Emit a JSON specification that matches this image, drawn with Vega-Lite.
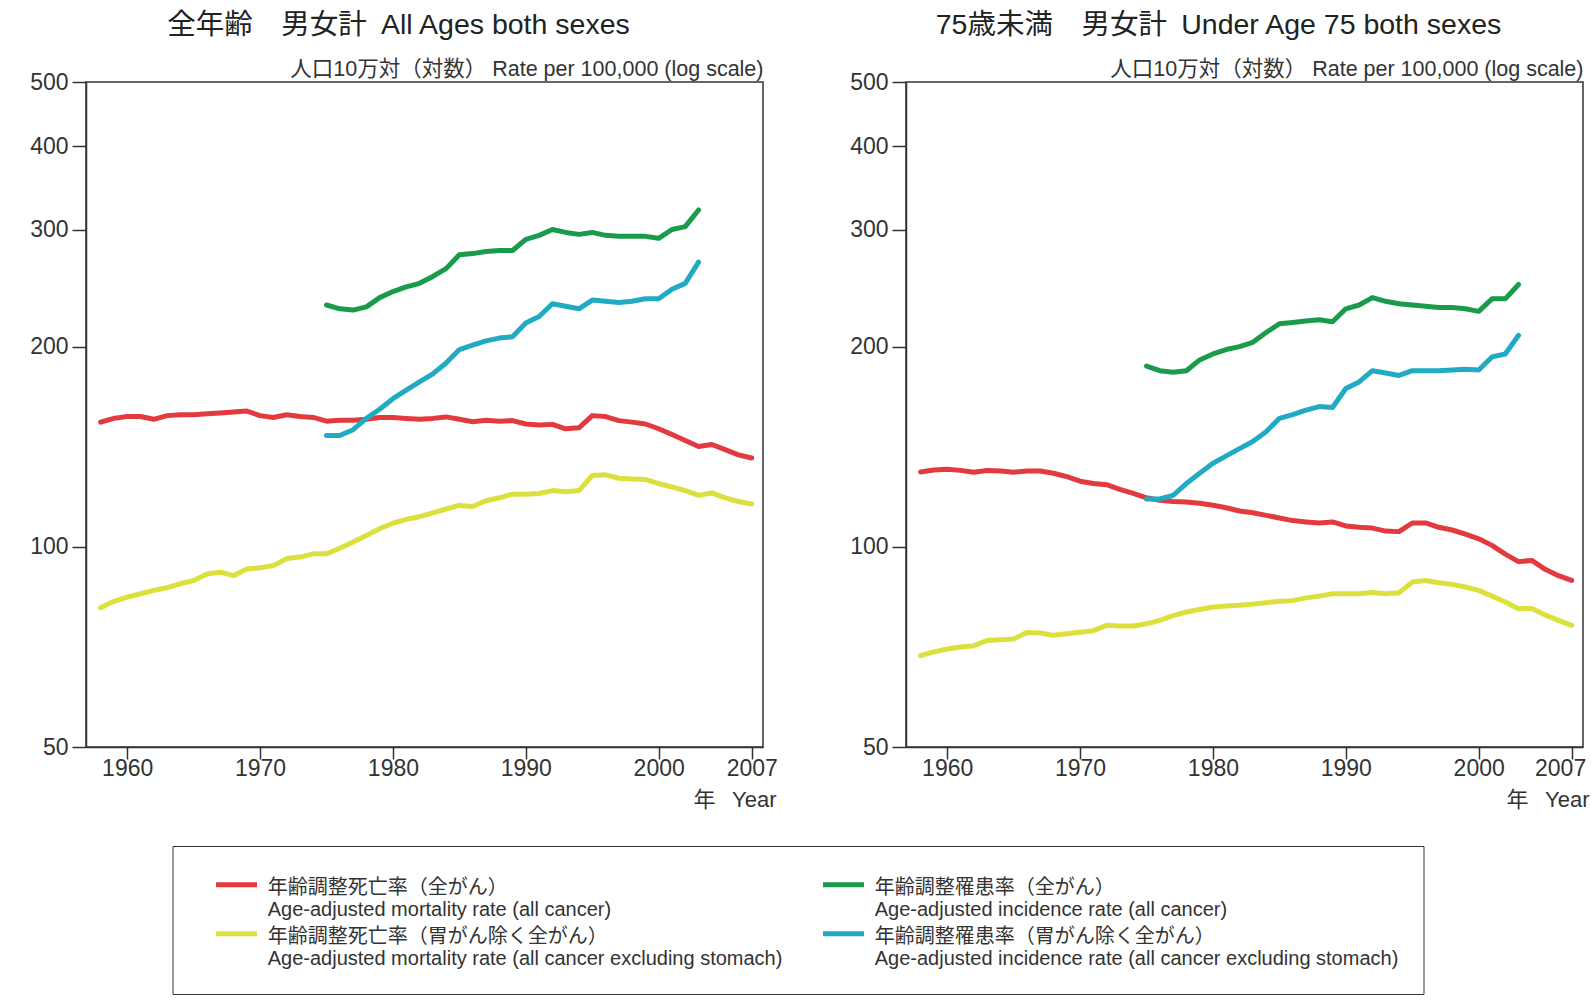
{
  "$schema": "https://vega.github.io/schema/vega-lite/v6.json",
  "padding": {"left": 28, "top": 9, "right": 0, "bottom": 0},
  "background": "white",
  "config": {
    "font": "Liberation Sans, Noto Sans CJK JP",
    "view": {"stroke": "#333", "strokeWidth": 1.5},
    "axis": {"grid": false, "domainColor": "#333", "domainWidth": 1.5, "tickColor": "#333", "tickWidth": 1.5, "labelColor": "#333", "labelFontSize": 23, "titleFontWeight": "normal", "titleColor": "#333"},
    "title": {"fontSize": 28.5, "fontWeight": "normal", "color": "#222", "anchor": "middle", "dx": -26, "offset": 19},
    "legend": {"labelColor": "#333"}
  },
  "datasets": {
    "d": [
      {"p":"all","s":"mortality","year":1958,"v":154},{"p":"all","s":"mortality","year":1959,"v":156},{"p":"all","s":"mortality","year":1960,"v":157},{"p":"all","s":"mortality","year":1961,"v":157},{"p":"all","s":"mortality","year":1962,"v":155.5},{"p":"all","s":"mortality","year":1963,"v":157.5},{"p":"all","s":"mortality","year":1964,"v":158},{"p":"all","s":"mortality","year":1965,"v":158},{"p":"all","s":"mortality","year":1966,"v":158.5},{"p":"all","s":"mortality","year":1967,"v":159},{"p":"all","s":"mortality","year":1968,"v":159.5},{"p":"all","s":"mortality","year":1969,"v":160},{"p":"all","s":"mortality","year":1970,"v":157.5},{"p":"all","s":"mortality","year":1971,"v":156.5},{"p":"all","s":"mortality","year":1972,"v":158},{"p":"all","s":"mortality","year":1973,"v":157},{"p":"all","s":"mortality","year":1974,"v":156.5},{"p":"all","s":"mortality","year":1975,"v":154.5},{"p":"all","s":"mortality","year":1976,"v":155},{"p":"all","s":"mortality","year":1977,"v":155},{"p":"all","s":"mortality","year":1978,"v":155.5},{"p":"all","s":"mortality","year":1979,"v":156.5},{"p":"all","s":"mortality","year":1980,"v":156.5},{"p":"all","s":"mortality","year":1981,"v":156},{"p":"all","s":"mortality","year":1982,"v":155.5},{"p":"all","s":"mortality","year":1983,"v":156},{"p":"all","s":"mortality","year":1984,"v":156.8},{"p":"all","s":"mortality","year":1985,"v":155.5},{"p":"all","s":"mortality","year":1986,"v":154.2},{"p":"all","s":"mortality","year":1987,"v":155},{"p":"all","s":"mortality","year":1988,"v":154.5},{"p":"all","s":"mortality","year":1989,"v":154.8},{"p":"all","s":"mortality","year":1990,"v":153},{"p":"all","s":"mortality","year":1991,"v":152.5},{"p":"all","s":"mortality","year":1992,"v":152.8},{"p":"all","s":"mortality","year":1993,"v":150.5},{"p":"all","s":"mortality","year":1994,"v":151},{"p":"all","s":"mortality","year":1995,"v":157.5},{"p":"all","s":"mortality","year":1996,"v":157},{"p":"all","s":"mortality","year":1997,"v":154.8},{"p":"all","s":"mortality","year":1998,"v":154},{"p":"all","s":"mortality","year":1999,"v":153},{"p":"all","s":"mortality","year":2000,"v":150.5},{"p":"all","s":"mortality","year":2001,"v":147.5},{"p":"all","s":"mortality","year":2002,"v":144.5},{"p":"all","s":"mortality","year":2003,"v":141.5},{"p":"all","s":"mortality","year":2004,"v":142.5},{"p":"all","s":"mortality","year":2005,"v":140},{"p":"all","s":"mortality","year":2006,"v":137.5},{"p":"all","s":"mortality","year":2007,"v":136},
      {"p":"all","s":"mortality_ex","year":1958,"v":81},{"p":"all","s":"mortality_ex","year":1959,"v":82.8},{"p":"all","s":"mortality_ex","year":1960,"v":84},{"p":"all","s":"mortality_ex","year":1961,"v":85},{"p":"all","s":"mortality_ex","year":1962,"v":86},{"p":"all","s":"mortality_ex","year":1963,"v":86.8},{"p":"all","s":"mortality_ex","year":1964,"v":88},{"p":"all","s":"mortality_ex","year":1965,"v":89},{"p":"all","s":"mortality_ex","year":1966,"v":91},{"p":"all","s":"mortality_ex","year":1967,"v":91.6},{"p":"all","s":"mortality_ex","year":1968,"v":90.5},{"p":"all","s":"mortality_ex","year":1969,"v":92.6},{"p":"all","s":"mortality_ex","year":1970,"v":93},{"p":"all","s":"mortality_ex","year":1971,"v":93.7},{"p":"all","s":"mortality_ex","year":1972,"v":96},{"p":"all","s":"mortality_ex","year":1973,"v":96.5},{"p":"all","s":"mortality_ex","year":1974,"v":97.6},{"p":"all","s":"mortality_ex","year":1975,"v":97.6},{"p":"all","s":"mortality_ex","year":1976,"v":99.5},{"p":"all","s":"mortality_ex","year":1977,"v":101.7},{"p":"all","s":"mortality_ex","year":1978,"v":104},{"p":"all","s":"mortality_ex","year":1979,"v":106.5},{"p":"all","s":"mortality_ex","year":1980,"v":108.5},{"p":"all","s":"mortality_ex","year":1981,"v":110},{"p":"all","s":"mortality_ex","year":1982,"v":111},{"p":"all","s":"mortality_ex","year":1983,"v":112.5},{"p":"all","s":"mortality_ex","year":1984,"v":114},{"p":"all","s":"mortality_ex","year":1985,"v":115.4},{"p":"all","s":"mortality_ex","year":1986,"v":115},{"p":"all","s":"mortality_ex","year":1987,"v":117.3},{"p":"all","s":"mortality_ex","year":1988,"v":118.5},{"p":"all","s":"mortality_ex","year":1989,"v":120},{"p":"all","s":"mortality_ex","year":1990,"v":120},{"p":"all","s":"mortality_ex","year":1991,"v":120.3},{"p":"all","s":"mortality_ex","year":1992,"v":121.5},{"p":"all","s":"mortality_ex","year":1993,"v":121},{"p":"all","s":"mortality_ex","year":1994,"v":121.5},{"p":"all","s":"mortality_ex","year":1995,"v":128},{"p":"all","s":"mortality_ex","year":1996,"v":128.3},{"p":"all","s":"mortality_ex","year":1997,"v":126.8},{"p":"all","s":"mortality_ex","year":1998,"v":126.5},{"p":"all","s":"mortality_ex","year":1999,"v":126.3},{"p":"all","s":"mortality_ex","year":2000,"v":124.5},{"p":"all","s":"mortality_ex","year":2001,"v":123},{"p":"all","s":"mortality_ex","year":2002,"v":121.5},{"p":"all","s":"mortality_ex","year":2003,"v":119.5},{"p":"all","s":"mortality_ex","year":2004,"v":120.5},{"p":"all","s":"mortality_ex","year":2005,"v":118.5},{"p":"all","s":"mortality_ex","year":2006,"v":117},{"p":"all","s":"mortality_ex","year":2007,"v":116},
      {"p":"all","s":"incidence","year":1975,"v":231},{"p":"all","s":"incidence","year":1976,"v":228},{"p":"all","s":"incidence","year":1977,"v":227},{"p":"all","s":"incidence","year":1978,"v":229.5},{"p":"all","s":"incidence","year":1979,"v":237},{"p":"all","s":"incidence","year":1980,"v":242},{"p":"all","s":"incidence","year":1981,"v":246},{"p":"all","s":"incidence","year":1982,"v":249},{"p":"all","s":"incidence","year":1983,"v":255},{"p":"all","s":"incidence","year":1984,"v":262},{"p":"all","s":"incidence","year":1985,"v":275},{"p":"all","s":"incidence","year":1986,"v":276},{"p":"all","s":"incidence","year":1987,"v":278},{"p":"all","s":"incidence","year":1988,"v":279},{"p":"all","s":"incidence","year":1989,"v":279},{"p":"all","s":"incidence","year":1990,"v":290},{"p":"all","s":"incidence","year":1991,"v":294},{"p":"all","s":"incidence","year":1992,"v":300},{"p":"all","s":"incidence","year":1993,"v":297},{"p":"all","s":"incidence","year":1994,"v":295},{"p":"all","s":"incidence","year":1995,"v":297},{"p":"all","s":"incidence","year":1996,"v":294},{"p":"all","s":"incidence","year":1997,"v":293},{"p":"all","s":"incidence","year":1998,"v":293},{"p":"all","s":"incidence","year":1999,"v":293},{"p":"all","s":"incidence","year":2000,"v":291},{"p":"all","s":"incidence","year":2001,"v":300},{"p":"all","s":"incidence","year":2002,"v":303},{"p":"all","s":"incidence","year":2003,"v":321},
      {"p":"all","s":"incidence_ex","year":1975,"v":147},{"p":"all","s":"incidence_ex","year":1976,"v":147},{"p":"all","s":"incidence_ex","year":1977,"v":150},{"p":"all","s":"incidence_ex","year":1978,"v":156},{"p":"all","s":"incidence_ex","year":1979,"v":161},{"p":"all","s":"incidence_ex","year":1980,"v":167},{"p":"all","s":"incidence_ex","year":1981,"v":172},{"p":"all","s":"incidence_ex","year":1982,"v":177},{"p":"all","s":"incidence_ex","year":1983,"v":182},{"p":"all","s":"incidence_ex","year":1984,"v":189},{"p":"all","s":"incidence_ex","year":1985,"v":198},{"p":"all","s":"incidence_ex","year":1986,"v":201},{"p":"all","s":"incidence_ex","year":1987,"v":204},{"p":"all","s":"incidence_ex","year":1988,"v":206},{"p":"all","s":"incidence_ex","year":1989,"v":207},{"p":"all","s":"incidence_ex","year":1990,"v":217},{"p":"all","s":"incidence_ex","year":1991,"v":222},{"p":"all","s":"incidence_ex","year":1992,"v":232},{"p":"all","s":"incidence_ex","year":1993,"v":230},{"p":"all","s":"incidence_ex","year":1994,"v":228},{"p":"all","s":"incidence_ex","year":1995,"v":235},{"p":"all","s":"incidence_ex","year":1996,"v":234},{"p":"all","s":"incidence_ex","year":1997,"v":233},{"p":"all","s":"incidence_ex","year":1998,"v":234},{"p":"all","s":"incidence_ex","year":1999,"v":236},{"p":"all","s":"incidence_ex","year":2000,"v":236},{"p":"all","s":"incidence_ex","year":2001,"v":244},{"p":"all","s":"incidence_ex","year":2002,"v":249},{"p":"all","s":"incidence_ex","year":2003,"v":268},
      {"p":"u75","s":"mortality","year":1958,"v":129.6},{"p":"u75","s":"mortality","year":1959,"v":130.5},{"p":"u75","s":"mortality","year":1960,"v":130.8},{"p":"u75","s":"mortality","year":1961,"v":130.3},{"p":"u75","s":"mortality","year":1962,"v":129.5},{"p":"u75","s":"mortality","year":1963,"v":130.2},{"p":"u75","s":"mortality","year":1964,"v":130},{"p":"u75","s":"mortality","year":1965,"v":129.5},{"p":"u75","s":"mortality","year":1966,"v":130},{"p":"u75","s":"mortality","year":1967,"v":130},{"p":"u75","s":"mortality","year":1968,"v":129},{"p":"u75","s":"mortality","year":1969,"v":127.5},{"p":"u75","s":"mortality","year":1970,"v":125.5},{"p":"u75","s":"mortality","year":1971,"v":124.5},{"p":"u75","s":"mortality","year":1972,"v":124},{"p":"u75","s":"mortality","year":1973,"v":122},{"p":"u75","s":"mortality","year":1974,"v":120.3},{"p":"u75","s":"mortality","year":1975,"v":118.5},{"p":"u75","s":"mortality","year":1976,"v":117.5},{"p":"u75","s":"mortality","year":1977,"v":117},{"p":"u75","s":"mortality","year":1978,"v":116.8},{"p":"u75","s":"mortality","year":1979,"v":116.3},{"p":"u75","s":"mortality","year":1980,"v":115.5},{"p":"u75","s":"mortality","year":1981,"v":114.5},{"p":"u75","s":"mortality","year":1982,"v":113.2},{"p":"u75","s":"mortality","year":1983,"v":112.5},{"p":"u75","s":"mortality","year":1984,"v":111.5},{"p":"u75","s":"mortality","year":1985,"v":110.5},{"p":"u75","s":"mortality","year":1986,"v":109.5},{"p":"u75","s":"mortality","year":1987,"v":109},{"p":"u75","s":"mortality","year":1988,"v":108.6},{"p":"u75","s":"mortality","year":1989,"v":109},{"p":"u75","s":"mortality","year":1990,"v":107.5},{"p":"u75","s":"mortality","year":1991,"v":107},{"p":"u75","s":"mortality","year":1992,"v":106.7},{"p":"u75","s":"mortality","year":1993,"v":105.6},{"p":"u75","s":"mortality","year":1994,"v":105.4},{"p":"u75","s":"mortality","year":1995,"v":108.6},{"p":"u75","s":"mortality","year":1996,"v":108.6},{"p":"u75","s":"mortality","year":1997,"v":107},{"p":"u75","s":"mortality","year":1998,"v":106},{"p":"u75","s":"mortality","year":1999,"v":104.5},{"p":"u75","s":"mortality","year":2000,"v":102.8},{"p":"u75","s":"mortality","year":2001,"v":100.5},{"p":"u75","s":"mortality","year":2002,"v":97.5},{"p":"u75","s":"mortality","year":2003,"v":95},{"p":"u75","s":"mortality","year":2004,"v":95.4},{"p":"u75","s":"mortality","year":2005,"v":92.5},{"p":"u75","s":"mortality","year":2006,"v":90.5},{"p":"u75","s":"mortality","year":2007,"v":89},
      {"p":"u75","s":"mortality_ex","year":1958,"v":68.6},{"p":"u75","s":"mortality_ex","year":1959,"v":69.5},{"p":"u75","s":"mortality_ex","year":1960,"v":70.2},{"p":"u75","s":"mortality_ex","year":1961,"v":70.7},{"p":"u75","s":"mortality_ex","year":1962,"v":71},{"p":"u75","s":"mortality_ex","year":1963,"v":72.3},{"p":"u75","s":"mortality_ex","year":1964,"v":72.5},{"p":"u75","s":"mortality_ex","year":1965,"v":72.7},{"p":"u75","s":"mortality_ex","year":1966,"v":74.3},{"p":"u75","s":"mortality_ex","year":1967,"v":74.2},{"p":"u75","s":"mortality_ex","year":1968,"v":73.6},{"p":"u75","s":"mortality_ex","year":1969,"v":74},{"p":"u75","s":"mortality_ex","year":1970,"v":74.4},{"p":"u75","s":"mortality_ex","year":1971,"v":74.8},{"p":"u75","s":"mortality_ex","year":1972,"v":76.2},{"p":"u75","s":"mortality_ex","year":1973,"v":76},{"p":"u75","s":"mortality_ex","year":1974,"v":76},{"p":"u75","s":"mortality_ex","year":1975,"v":76.6},{"p":"u75","s":"mortality_ex","year":1976,"v":77.5},{"p":"u75","s":"mortality_ex","year":1977,"v":78.8},{"p":"u75","s":"mortality_ex","year":1978,"v":79.8},{"p":"u75","s":"mortality_ex","year":1979,"v":80.5},{"p":"u75","s":"mortality_ex","year":1980,"v":81.2},{"p":"u75","s":"mortality_ex","year":1981,"v":81.5},{"p":"u75","s":"mortality_ex","year":1982,"v":81.7},{"p":"u75","s":"mortality_ex","year":1983,"v":82},{"p":"u75","s":"mortality_ex","year":1984,"v":82.4},{"p":"u75","s":"mortality_ex","year":1985,"v":82.8},{"p":"u75","s":"mortality_ex","year":1986,"v":83},{"p":"u75","s":"mortality_ex","year":1987,"v":83.8},{"p":"u75","s":"mortality_ex","year":1988,"v":84.3},{"p":"u75","s":"mortality_ex","year":1989,"v":85},{"p":"u75","s":"mortality_ex","year":1990,"v":85},{"p":"u75","s":"mortality_ex","year":1991,"v":85},{"p":"u75","s":"mortality_ex","year":1992,"v":85.4},{"p":"u75","s":"mortality_ex","year":1993,"v":85},{"p":"u75","s":"mortality_ex","year":1994,"v":85.3},{"p":"u75","s":"mortality_ex","year":1995,"v":88.5},{"p":"u75","s":"mortality_ex","year":1996,"v":89},{"p":"u75","s":"mortality_ex","year":1997,"v":88.3},{"p":"u75","s":"mortality_ex","year":1998,"v":87.8},{"p":"u75","s":"mortality_ex","year":1999,"v":87},{"p":"u75","s":"mortality_ex","year":2000,"v":86},{"p":"u75","s":"mortality_ex","year":2001,"v":84.3},{"p":"u75","s":"mortality_ex","year":2002,"v":82.6},{"p":"u75","s":"mortality_ex","year":2003,"v":80.7},{"p":"u75","s":"mortality_ex","year":2004,"v":80.8},{"p":"u75","s":"mortality_ex","year":2005,"v":79},{"p":"u75","s":"mortality_ex","year":2006,"v":77.5},{"p":"u75","s":"mortality_ex","year":2007,"v":76.2},
      {"p":"u75","s":"incidence","year":1975,"v":187},{"p":"u75","s":"incidence","year":1976,"v":184},{"p":"u75","s":"incidence","year":1977,"v":183},{"p":"u75","s":"incidence","year":1978,"v":184},{"p":"u75","s":"incidence","year":1979,"v":191},{"p":"u75","s":"incidence","year":1980,"v":195},{"p":"u75","s":"incidence","year":1981,"v":198},{"p":"u75","s":"incidence","year":1982,"v":200},{"p":"u75","s":"incidence","year":1983,"v":203},{"p":"u75","s":"incidence","year":1984,"v":210},{"p":"u75","s":"incidence","year":1985,"v":216.5},{"p":"u75","s":"incidence","year":1986,"v":217.5},{"p":"u75","s":"incidence","year":1987,"v":218.5},{"p":"u75","s":"incidence","year":1988,"v":219.5},{"p":"u75","s":"incidence","year":1989,"v":218},{"p":"u75","s":"incidence","year":1990,"v":228},{"p":"u75","s":"incidence","year":1991,"v":231},{"p":"u75","s":"incidence","year":1992,"v":237},{"p":"u75","s":"incidence","year":1993,"v":234},{"p":"u75","s":"incidence","year":1994,"v":232},{"p":"u75","s":"incidence","year":1995,"v":231},{"p":"u75","s":"incidence","year":1996,"v":230},{"p":"u75","s":"incidence","year":1997,"v":229},{"p":"u75","s":"incidence","year":1998,"v":229},{"p":"u75","s":"incidence","year":1999,"v":228},{"p":"u75","s":"incidence","year":2000,"v":226},{"p":"u75","s":"incidence","year":2001,"v":236},{"p":"u75","s":"incidence","year":2002,"v":236},{"p":"u75","s":"incidence","year":2003,"v":248},
      {"p":"u75","s":"incidence_ex","year":1975,"v":118},{"p":"u75","s":"incidence_ex","year":1976,"v":118},{"p":"u75","s":"incidence_ex","year":1977,"v":119.5},{"p":"u75","s":"incidence_ex","year":1978,"v":124.5},{"p":"u75","s":"incidence_ex","year":1979,"v":129},{"p":"u75","s":"incidence_ex","year":1980,"v":133.5},{"p":"u75","s":"incidence_ex","year":1981,"v":137},{"p":"u75","s":"incidence_ex","year":1982,"v":140.5},{"p":"u75","s":"incidence_ex","year":1983,"v":144},{"p":"u75","s":"incidence_ex","year":1984,"v":149},{"p":"u75","s":"incidence_ex","year":1985,"v":156},{"p":"u75","s":"incidence_ex","year":1986,"v":158},{"p":"u75","s":"incidence_ex","year":1987,"v":160.5},{"p":"u75","s":"incidence_ex","year":1988,"v":162.5},{"p":"u75","s":"incidence_ex","year":1989,"v":162},{"p":"u75","s":"incidence_ex","year":1990,"v":173},{"p":"u75","s":"incidence_ex","year":1991,"v":177},{"p":"u75","s":"incidence_ex","year":1992,"v":184},{"p":"u75","s":"incidence_ex","year":1993,"v":182.5},{"p":"u75","s":"incidence_ex","year":1994,"v":181},{"p":"u75","s":"incidence_ex","year":1995,"v":184},{"p":"u75","s":"incidence_ex","year":1996,"v":184},{"p":"u75","s":"incidence_ex","year":1997,"v":184},{"p":"u75","s":"incidence_ex","year":1998,"v":184.5},{"p":"u75","s":"incidence_ex","year":1999,"v":185},{"p":"u75","s":"incidence_ex","year":2000,"v":184.5},{"p":"u75","s":"incidence_ex","year":2001,"v":193},{"p":"u75","s":"incidence_ex","year":2002,"v":195},{"p":"u75","s":"incidence_ex","year":2003,"v":208}
    ]
  },
  "bounds": "flush",
  "spacing": 143,
  "hconcat": [
    {
      "width": 677,
      "height": 665,
      "title": {"text": "全年齢　男女計\u2002All Ages both sexes"},
      "data": {"name": "d"},
      "transform": [{"filter": "datum.p === 'all'"}],
      "mark": {"type": "line", "strokeWidth": 5, "strokeCap": "round", "strokeJoin": "round"},
      "encoding": {
        "x": {"field": "year", "type": "quantitative", "scale": {"domain": [1956.9, 2007.85], "nice": false, "zero": false},
              "axis": {"values": [1960, 1970, 1980, 1990, 2000, 2007], "format": "d", "tickSize": 12, "labelPadding": -2, "title": "年\u2002\u2005Year", "titleX": 690, "titleY": 52, "titleAlign": "right", "titleBaseline": "middle", "titleFontSize": 22}},
        "y": {"field": "v", "type": "quantitative", "scale": {"type": "log", "domain": [50, 500], "nice": false},
              "axis": {"values": [50, 100, 200, 300, 400, 500], "format": "d", "tickSize": 14, "labelPadding": 4, "title": "人口10万対（対数） Rate per 100,000 (log scale)", "titleAngle": 0, "titleX": 677, "titleY": -13, "titleAlign": "right", "titleBaseline": "middle", "titleFontSize": 21.5}},
        "color": {"field": "s", "type": "nominal",
                  "scale": {"domain": ["mortality", "mortality_ex", "incidence", "incidence_ex"], "range": ["#E23A3F", "#DCE03C", "#1A9B4B", "#20AAC3"]},
                  "legend": {"orient": "none", "legendX": 86.5, "legendY": 764, "columns": 2, "title": null,
                             "symbolType": "M-1,-0.15H1", "symbolSize": 1681, "symbolStrokeWidth": 5, "symbolOffset": 16,
                             "labelFontSize": 20, "labelLimit": 0, "labelOffset": 8.2, "columnPadding": 22, "rowPadding": 0, "clipHeight": 33.6,
                             "padding": 25, "strokeColor": "#333", "labelBaseline": "middle",
                             "labelExpr": "datum.value == 'mortality' ? ['年齢調整死亡率（全がん）', 'Age-adjusted mortality rate (all cancer)'] : datum.value == 'incidence' ? ['年齢調整罹患率（全がん）', 'Age-adjusted incidence rate (all cancer)'] : datum.value == 'mortality_ex' ? ['年齢調整死亡率（胃がん除く全がん）', 'Age-adjusted mortality rate (all cancer excluding stomach)'] : ['年齢調整罹患率（胃がん除く全がん）', 'Age-adjusted incidence rate (all cancer excluding stomach)\u2003\u2003\u2003\u2005']",
                             "encode": {"labels": {"update": {"lineHeight": {"value": 22}}}}}}
      }
    },
    {
      "width": 677,
      "height": 665,
      "title": {"text": "75歳未満　男女計\u2002Under Age 75 both sexes"},
      "data": {"name": "d"},
      "transform": [{"filter": "datum.p === 'u75'"}],
      "mark": {"type": "line", "strokeWidth": 5, "strokeCap": "round", "strokeJoin": "round"},
      "encoding": {
        "x": {"field": "year", "type": "quantitative", "scale": {"domain": [1956.9, 2007.85], "nice": false, "zero": false},
              "axis": {"values": [1960, 1970, 1980, 1990, 2000, 2007], "format": "d", "tickSize": 12, "labelPadding": -2, "labelFlush": 15, "labelFlushOffset": 14, "title": "年\u2002\u2005Year", "titleX": 683, "titleY": 52, "titleAlign": "right", "titleBaseline": "middle", "titleFontSize": 22}},
        "y": {"field": "v", "type": "quantitative", "scale": {"type": "log", "domain": [50, 500], "nice": false},
              "axis": {"values": [50, 100, 200, 300, 400, 500], "format": "d", "tickSize": 14, "labelPadding": 4, "title": "人口10万対（対数） Rate per 100,000 (log scale)", "titleAngle": 0, "titleX": 677, "titleY": -13, "titleAlign": "right", "titleBaseline": "middle", "titleFontSize": 21.5}},
        "color": {"field": "s", "type": "nominal",
                  "scale": {"domain": ["mortality", "mortality_ex", "incidence", "incidence_ex"], "range": ["#E23A3F", "#DCE03C", "#1A9B4B", "#20AAC3"]},
                  "legend": {"orient": "none", "legendX": 86.5, "legendY": 764, "columns": 2, "title": null,
                             "symbolType": "M-1,-0.15H1", "symbolSize": 1681, "symbolStrokeWidth": 5, "symbolOffset": 16,
                             "labelFontSize": 20, "labelLimit": 0, "labelOffset": 8.2, "columnPadding": 22, "rowPadding": 0, "clipHeight": 33.6,
                             "padding": 25, "strokeColor": "#333", "labelBaseline": "middle",
                             "labelExpr": "datum.value == 'mortality' ? ['年齢調整死亡率（全がん）', 'Age-adjusted mortality rate (all cancer)'] : datum.value == 'incidence' ? ['年齢調整罹患率（全がん）', 'Age-adjusted incidence rate (all cancer)'] : datum.value == 'mortality_ex' ? ['年齢調整死亡率（胃がん除く全がん）', 'Age-adjusted mortality rate (all cancer excluding stomach)'] : ['年齢調整罹患率（胃がん除く全がん）', 'Age-adjusted incidence rate (all cancer excluding stomach)\u2003\u2003\u2003\u2005']",
                             "encode": {"labels": {"update": {"lineHeight": {"value": 22}}}}}}
      }
    }
  ]
}
